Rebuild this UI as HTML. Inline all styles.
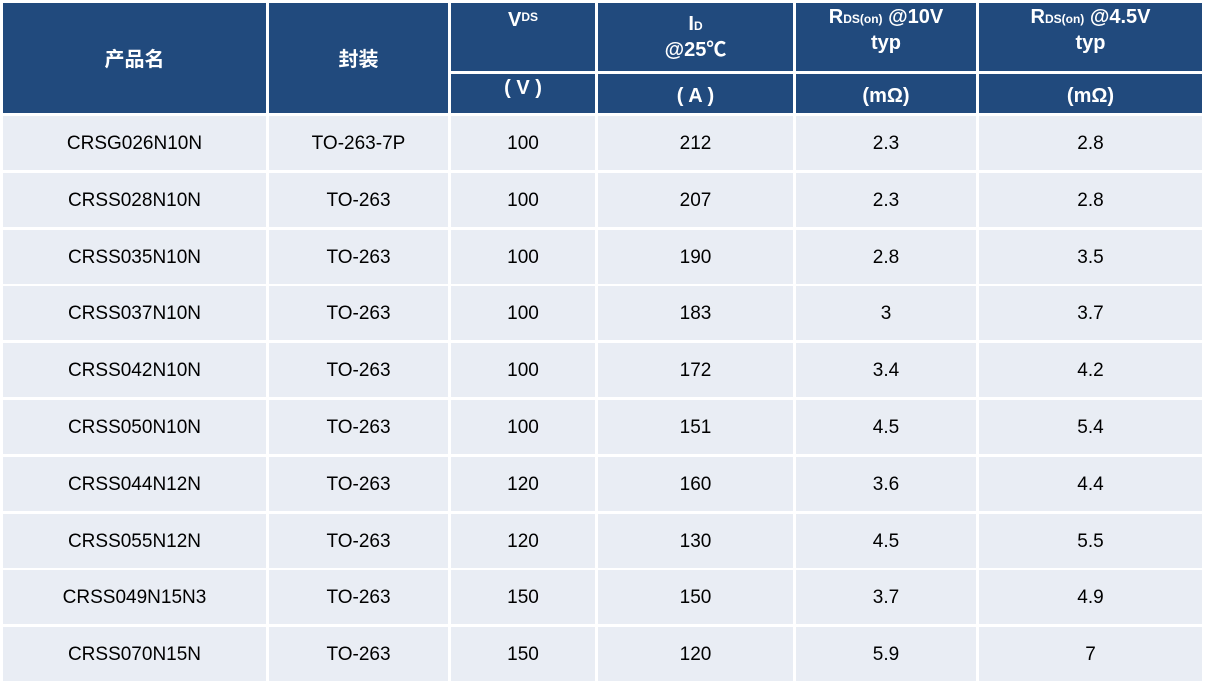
<!DOCTYPE html>
<html><head><meta charset="utf-8"><style>
body{margin:0;width:1210px;height:686px;background:#fff;position:relative;overflow:hidden;font-family:"Liberation Sans","Noto Sans CJK SC",sans-serif}
.c{position:absolute;display:flex;align-items:center;justify-content:center;text-align:center;box-sizing:border-box}
.h{background:#214a7d;color:#fff;font-weight:bold;font-size:20px;line-height:24px}
.d{background:#e9edf4;color:#000;font-size:19px}
</style></head><body>
<div class="c h" style="left:3px;top:3px;width:263px;height:110px;padding-top:4px">产品名</div>
<div class="c h" style="left:269px;top:3px;width:179px;height:110px;padding-top:4px">封装</div>
<div class="c h" style="left:451px;top:3px;width:144px;height:68px;align-items:flex-start;padding-top:5px">V<span style="font-size:12px;line-height:18px">DS</span></div>
<div class="c h" style="left:451px;top:74px;width:144px;height:39px;align-items:flex-start;padding-top:2px">( V )</div>
<div class="c h" style="left:598px;top:3px;width:195px;height:68px"><div>I<span style="font-size:12px">D</span><br>@25℃</div></div>
<div class="c h" style="left:598px;top:74px;width:195px;height:39px;padding-top:4px">( A )</div>
<div class="c h" style="left:796px;top:3px;width:180px;height:68px;align-items:flex-start;padding-top:2px"><div>R<span style="font-size:12px">DS(on)</span> @10V<br>typ</div></div>
<div class="c h" style="left:796px;top:74px;width:180px;height:39px;padding-top:4px">(mΩ)</div>
<div class="c h" style="left:979px;top:3px;width:223px;height:68px;align-items:flex-start;padding-top:2px"><div>R<span style="font-size:12px">DS(on)</span> @4.5V<br>typ</div></div>
<div class="c h" style="left:979px;top:74px;width:223px;height:39px;padding-top:4px">(mΩ)</div>
<div id="rows"></div>
<script>
var data=[["CRSG026N10N","TO-263-7P","100","212","2.3","2.8"],["CRSS028N10N","TO-263","100","207","2.3","2.8"],["CRSS035N10N","TO-263","100","190","2.8","3.5"],["CRSS037N10N","TO-263","100","183","3","3.7"],["CRSS042N10N","TO-263","100","172","3.4","4.2"],["CRSS050N10N","TO-263","100","151","4.5","5.4"],["CRSS044N12N","TO-263","120","160","3.6","4.4"],["CRSS055N12N","TO-263","120","130","4.5","5.5"],["CRSS049N15N3","TO-263","150","150","3.7","4.9"],["CRSS070N15N","TO-263","150","120","5.9","7"]];
var cols=[[3,263],[269,179],[451,144],[598,195],[796,180],[979,223]];
var h="";
data.forEach(function(r,i){var t=Math.round(116+i*56.8);r.forEach(function(v,j){h+='<div class="c d" style="left:'+cols[j][0]+'px;top:'+t+'px;width:'+cols[j][1]+'px;height:54px;padding-top:2px">'+v+'</div>';});});
document.getElementById("rows").innerHTML=h;
</script>
</body></html>
